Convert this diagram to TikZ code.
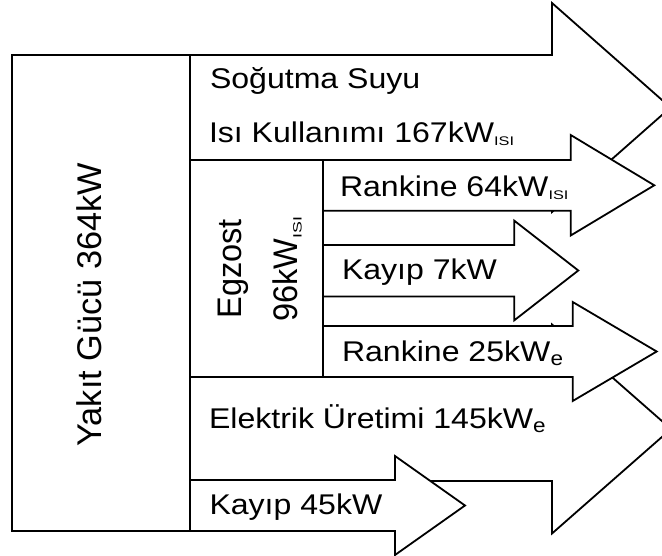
\documentclass[tikz,border=0pt]{standalone}
\usepackage{fontspec}
\setmainfont{Liberation Sans}
\newcommand\hs[1]{\scalebox{1.125}[1]{#1}}
\newcommand\vs[1]{\scalebox{1}[1.05]{#1}}
\newcommand\subI{\raisebox{-3.3pt}{\scalebox{1.16}[1]{\fontsize{12.5}{13}\selectfont ISI}}}
\newcommand\subE{\raisebox{-4pt}{\fontsize{20}{20}\selectfont e}}
\newcommand\subIv{\raisebox{-4.2pt}{\scalebox{1.55}[1]{\fontsize{11.5}{12}\selectfont ISI}}}
\tikzset{
  flow/.style={draw=black, fill=white, line width=1.8pt},
  boxline/.style={draw=black, fill=white, line width=1.8pt},
  lbl/.style={inner sep=0pt, outer sep=0pt, anchor=base west, font=\fontsize{28.5}{30}\selectfont},
  vlbl/.style={inner sep=0pt, outer sep=0pt, anchor=base west, rotate=90, font=\fontsize{32.5}{34}\selectfont},
}
\begin{document}
\begin{tikzpicture}[x=1pt,y=-1pt]
\clip (0,0) rectangle (662,556);
\fill[white] (0,0) rectangle (662,556);
% arrows
\draw[flow] (190,55) -- (552,55) -- (552,3) -- (670.5,107.5) -- (552,212) -- (552,160) -- (190,160) -- cycle;
\draw[flow] (190,377) -- (552,377) -- (552,324.5) -- (671,429) -- (552,533.5) -- (552,481) -- (190,481) -- cycle;
\draw[flow] (323,160) -- (570.7,160) -- (570.7,135) -- (654.3,185.3) -- (570.7,235.5) -- (570.7,210.7) -- (323,210.7) -- cycle;
\draw[flow] (323,245) -- (514.3,245) -- (514.3,220.7) -- (578.3,270.5) -- (514.3,320.3) -- (514.3,296.5) -- (323,296.5) -- cycle;
\draw[flow] (323,326) -- (572.7,326) -- (572.7,302) -- (656.7,351.5) -- (572.7,401) -- (572.7,377) -- (323,377) -- cycle;
\draw[flow] (190,480) -- (395,480) -- (395,456) -- (465,505.5) -- (395,555) -- (395,531) -- (190,531) -- cycle;
% boxes
\draw[boxline] (190,160) rectangle (323,377);
\draw[boxline] (12,55) rectangle (190,531);
% labels
\node[lbl] (t1) at (210,88.5) {\hs{Soğutma Suyu}};
\node[lbl] (t2) at (209,142.7) {\hs{Isı Kullanımı 167kW\subI}};
\node[lbl] (t3) at (340,196.5) {\hs{Rankine 64kW\subI}};
\node[lbl] (t4) at (342,280) {\hs{Kayıp 7kW}};
\node[lbl] (t5) at (342,362) {\hs{Rankine 25kW\subE}};
\node[lbl] (t6) at (209,428.5) {\hs{Elektrik Üretimi 145kW\subE}};
\node[lbl] (t7) at (209.5,514) {\hs{Kayıp 45kW}};
\node[vlbl, font=\fontsize{34.3}{36}\selectfont] (t8) at (101.7,446.5) {Yakıt Gücü 364kW};
\node[vlbl] (t9) at (241.7,318.6) {\vs{Egzost}};
\node[vlbl] (t10) at (297.3,321.4) {\vs{96kW\subIv}};
\end{tikzpicture}
\end{document}
